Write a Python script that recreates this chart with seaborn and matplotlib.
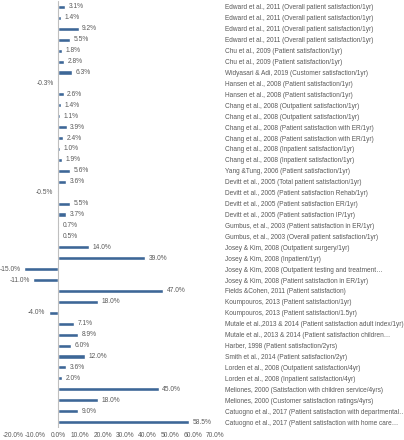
import pandas as pd
import numpy as np
import seaborn as sns
import matplotlib.pyplot as plt
from matplotlib.ticker import FuncFormatter

# studies / outcome measures, top to bottom as in the reference
labels = [
    "Edward et al., 2011 (Overall patient satisfaction/1yr)",
    "Edward et al., 2011 (Overall patient satisfaction/1yr)",
    "Edward et al., 2011 (Overall patient satisfaction/1yr)",
    "Edward et al., 2011 (Overall patient satisfaction/1yr)",
    "Chu et al., 2009 (Patient satisfaction/1yr)",
    "Chu et al., 2009 (Patient satisfaction/1yr)",
    "Widyasari & Adi, 2019 (Customer satisfaction/1yr)",
    "Hansen et al., 2008 (Patient satisfaction/1yr)",
    "Hansen et al., 2008 (Patient satisfaction/1yr)",
    "Chang et al., 2008 (Outpatient satisfaction/1yr)",
    "Chang et al., 2008 (Outpatient satisfaction/1yr)",
    "Chang et al., 2008 (Patient satisfaction with ER/1yr)",
    "Chang et al., 2008 (Patient satisfaction with ER/1yr)",
    "Chang et al., 2008 (Inpatient satisfaction/1yr)",
    "Chang et al., 2008 (Inpatient satisfaction/1yr)",
    "Yang &Tung, 2006 (Patient satisfaction/1yr)",
    "Devitt et al., 2005 (Total patient satisfaction/1yr)",
    "Devitt et al., 2005 (Patient satisfaction Rehab/1yr)",
    "Devitt et al., 2005 (Patient satisfaction ER/1yr)",
    "Devitt et al., 2005 (Patient satisfaction IP/1yr)",
    "Gumbus, et al., 2003 (Patient satisfaction in ER/1yr)",
    "Gumbus, et al., 2003 (Overall patient satisfaction/1yr)",
    "Josey & Kim, 2008 (Outpatient surgery/1yr)",
    "Josey & Kim, 2008 (Inpatient/1yr)",
    "Josey & Kim, 2008 (Outpatient testing and treatment\u2026",
    "Josey & Kim, 2008 (Patient satisfaction in ER/1yr)",
    "Fields &Cohen, 2011 (Patient satisfaction)",
    "Koumpouros, 2013 (Patient satisfaction/1yr)",
    "Koumpouros, 2013 (Patient satisfaction/1.5yr)",
    "Mutale et al.,2013 & 2014 (Patient satisfaction adult index/1yr)",
    "Mutale et al., 2013 & 2014 (Patient satisfaction children\u2026",
    "Harber, 1998 (Patient satisfaction/2yrs)",
    "Smith et al., 2014 (Patient satisfaction/2yr)",
    "Lorden et al., 2008 (Outpatient satisfaction/4yr)",
    "Lorden et al., 2008 (Inpatient satisfaction/4yr)",
    "Meliones, 2000 (Satisfaction with children service/4yrs)",
    "Meliones, 2000 (Customer satisfaction ratings/4yrs)",
    "Catuogno et al., 2017 (Patient satisfaction with departmental\u2026",
    "Catuogno et al., 2017 (Patient satisfaction with home care\u2026",
]

# percent change
change = [3.1, 1.4, 9.2, 5.5, 1.8, 2.8, 6.3, -0.3, 2.6, 1.4,
          1.1, 3.9, 2.4, 1.0, 1.9, 5.6, 3.6, -0.5, 5.5, 3.7,
          0.7, 0.5, 14.0, 39.0, -15.0, -11.0, 47.0, 18.0, -4.0, 7.1,
          8.9, 6.0, 12.0, 3.6, 2.0, 45.0, 18.0, 9.0, 58.5]

x_ticks = [-20, -10, 0, 10, 20, 30, 40, 50, 60, 70]

sns.set_theme(style="white")
plt.rcParams["font.family"] = ["Liberation Sans", "DejaVu Sans"]

grey = "#595959"
bar_color = "#3d6797"

df = pd.DataFrame({"row": [str(i) for i in range(len(labels))], "change": change})

fig, ax = plt.subplots(figsize=(4.04, 4.40), dpi=100)
fig.subplots_adjust(left=13 / 404, right=215 / 404, top=1 - 1.5 / 440, bottom=1 - 427.5 / 440)

sns.barplot(data=df, x="change", y="row", order=df["row"], color=bar_color,
            saturation=1, width=0.38, ax=ax)

ax.bar_label(ax.containers[0], fmt="%.1f%%", padding=2.5, fontsize=4.8, color=grey)

ax.axvline(0, color="#bfbfbf", lw=0.8)

ax.set_xlim(-20, 70)
ax.set_xticks(x_ticks)
ax.xaxis.set_major_formatter(FuncFormatter(lambda v, p: f"{v:.1f}%"))
ax.tick_params(axis="x", length=0, pad=3, labelsize=4.8, labelcolor=grey)

ax.yaxis.tick_right()
ax.set_yticks(range(len(labels)))
ax.set_yticklabels(labels)
ax.tick_params(axis="y", length=0, pad=7, labelsize=4.7, labelcolor=grey)

ax.set_xlabel("")
ax.set_ylabel("")
for s in ax.spines.values():
    s.set_visible(False)

plt.savefig("out.png", dpi=100)
plt.close()
